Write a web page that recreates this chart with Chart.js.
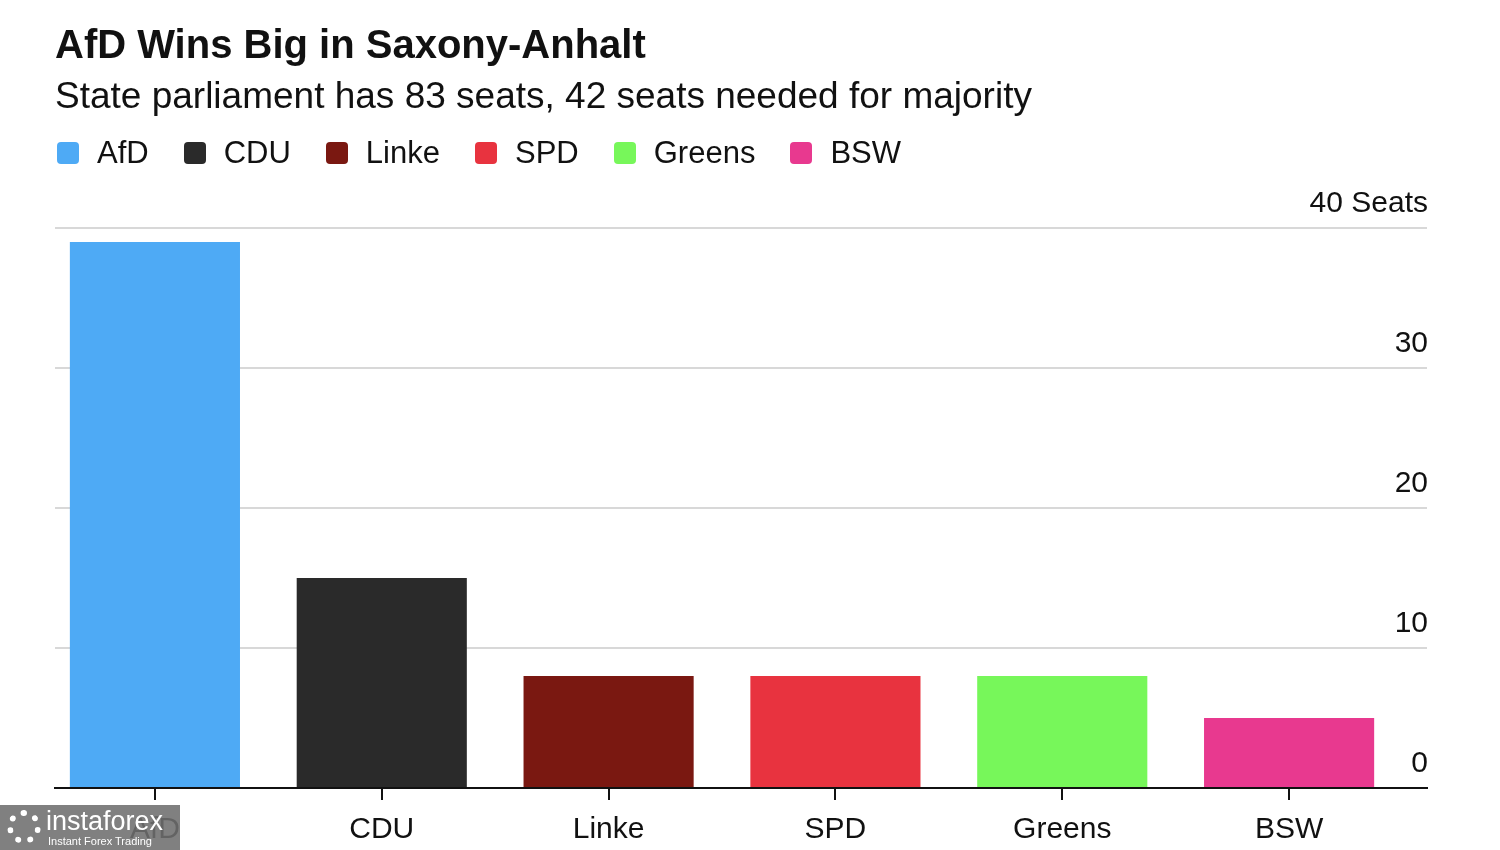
<!DOCTYPE html>
<html>
<head>
<meta charset="utf-8">
<script src="https://cdn.jsdelivr.net/npm/chart.js@4"></script>
<style>
  body { margin: 0; background: #fff; font-family: "Liberation Sans", Arial, sans-serif; color: #111; }
  #wrap { position: relative; width: 1500px; height: 850px; overflow: hidden; }
  #title { position: absolute; left: 55px; top: 24px; font-size: 40px; line-height: 40px; font-weight: bold; white-space: nowrap; }
  #subtitle { position: absolute; left: 55px; top: 77px; font-size: 37px; line-height: 37px; white-space: nowrap; }
  #legend { position: absolute; left: 57px; top: 137px; height: 32px; display: flex; align-items: center; font-size: 31px; white-space: nowrap; }
  .item { display: flex; align-items: center; margin-right: 35px; }
  .swatch { width: 22px; height: 22px; border-radius: 4px; margin-right: 18px; }
  canvas { position: absolute; left: 0; top: 0; }
  #mark { position: absolute; left: 0; top: 805px; width: 180px; height: 45px; background: rgba(110,110,110,0.88); color: #fff; }
  #mark .big { position: absolute; left: 46px; top: 3px; font-size: 27px; line-height: 27px; }
  #mark .small { position: absolute; left: 48px; top: 31px; font-size: 11px; line-height: 11px; }
  #mark .gear { position: absolute; left: 7px; top: 5px; width: 34px; height: 34px; border-radius: 50%; border: 6px dotted #fff; box-sizing: border-box; }
</style>
</head>
<body>
<div id="wrap">
  <canvas id="chart" width="1500" height="860"></canvas>
  <div id="title">AfD Wins Big in Saxony-Anhalt</div>
  <div id="subtitle">State parliament has 83 seats, 42 seats needed for majority</div>
  <div id="legend"></div>
  <div id="mark"><div class="gear"></div><div class="big">instaforex</div><div class="small">Instant Forex Trading</div></div>
</div>
<script>
const parties = ["AfD", "CDU", "Linke", "SPD", "Greens", "BSW"];
const seats = [39, 15, 8, 8, 8, 5];
const partyColors = ["#4eaaf5", "#2a2a2a", "#7a1811", "#e8333f", "#77f75a", "#e8398f"];
const yTicks = [0, 10, 20, 30, 40];

// legend
const legend = document.getElementById("legend");
parties.forEach((p, i) => {
  legend.innerHTML += `<div class="item"><div class="swatch" style="background:${partyColors[i]}"></div>${p}</div>`;
});

const ctx = document.getElementById("chart").getContext("2d");
const chart = new Chart(ctx, {
  type: "bar",
  data: {
    datasets: [
      {
        data: parties.map((p, i) => ({ x: i, y: seats[i] })),
        backgroundColor: partyColors,
        barPercentage: 0.75,
        categoryPercentage: 1,
      },
    ],
  },
  options: {
    responsive: false,
    animation: false,
    devicePixelRatio: 1,
    layout: { padding: { left: 55, right: 71, top: 228, bottom: 0 } },
    plugins: { legend: { display: false }, tooltip: { enabled: false } },
    scales: {
      x: {
        type: "linear",
        offset: false,
        min: -100 / 227,
        max: -100 / 227 + 1373 / 227,
        afterBuildTicks: (axis) => {
          axis.ticks = parties.map((p, i) => ({ value: i }));
        },
        ticks: {
          callback: (v) => parties[v],
          font: { family: "Liberation Sans", size: 30, lineHeight: 1 },
          color: "#111",
          padding: 15,
          maxRotation: 0,
          autoSkip: false,
        },
        grid: {
          offset: false,
          drawOnChartArea: false,
          drawTicks: true,
          tickLength: 12,
          color: "#111",
          lineWidth: 2,
        },
        border: { display: true, color: "#111", width: 2 },
      },
      y: {
        position: "right",
        min: 0,
        max: 40,
        afterBuildTicks: (axis) => {
          axis.ticks = yTicks.map((v) => ({ value: v }));
        },
        ticks: {
          mirror: true,
          padding: 1,
          labelOffset: -24,
          callback: (v) => (v === 40 ? "40 Seats" : v),
          font: { family: "Liberation Sans", size: 30 },
          color: "#111",
        },
        grid: {
          drawTicks: false,
          lineWidth: 2,
          color: (c) => (c.tick && c.tick.value === 0 ? "#111" : "#d8d8d8"),
        },
        border: { display: false },
      },
    },
  },
});
</script>
</body>
</html>
